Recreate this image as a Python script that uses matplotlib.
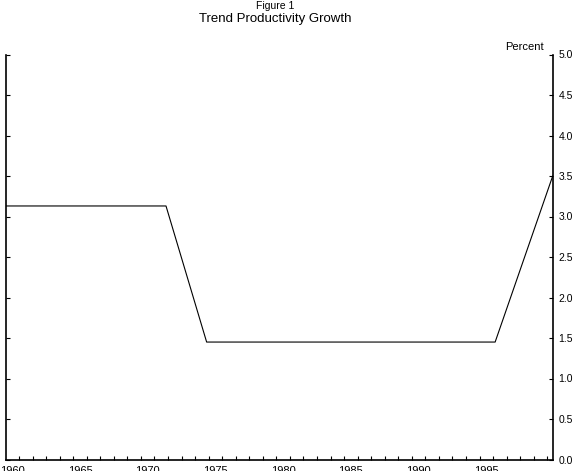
import numpy as np
import matplotlib.pyplot as plt
from matplotlib.ticker import FixedLocator

plt.rcParams['font.family'] = ['Liberation Sans', 'DejaVu Sans']

# trend productivity growth, percent
years = [1960.0, 1971.85, 1974.85, 1996.15, 2000.4]
growth = [3.13, 3.13, 1.45, 1.45, 3.5]

year_labels = [1960, 1965, 1970, 1975, 1980, 1985, 1990, 1995]
y_ticks = [0.0, 0.5, 1.0, 1.5, 2.0, 2.5, 3.0, 3.5, 4.0, 4.5, 5.0]

fig = plt.figure(figsize=(5.74, 4.71), dpi=100)
ax = fig.add_axes([5.5 / 574, 11.5 / 471, 547.2 / 574, 405 / 471])

ax.plot(years, growth, color='black', lw=0.8)

ax.set_xlim(1960, 2000.4)
ax.set_ylim(0, 5)

# year labels sit in the middle of each year, ticks on the year boundary
ax.set_xticks([y + 0.5 for y in year_labels])
ax.set_xticklabels([str(y) for y in year_labels], fontsize=8)
ax.xaxis.set_minor_locator(FixedLocator(np.arange(1961, 2001)))
ax.tick_params(axis='x', which='major', length=0, pad=5)
ax.tick_params(axis='x', which='minor', direction='in', length=3, width=0.8)

ax.set_yticks(y_ticks)
ax.set_yticklabels([f'{v:.1f}' for v in y_ticks], fontsize=7.5)
ax.tick_params(axis='y', direction='in', length=3, width=0.8,
               left=True, right=True, labelleft=False, labelright=True, pad=4)

ax.spines['top'].set_visible(False)
for s in ['left', 'right', 'bottom']:
    ax.spines[s].set_linewidth(1.2)

fig.text(544 / 574, 1 - 47 / 471, 'Percent', ha='right', va='center', fontsize=8)
fig.text(275 / 574, 1 - 6 / 471, 'Figure 1', ha='center', va='center', fontsize=7.5)
fig.text(275 / 574, 1 - 19 / 471, 'Trend Productivity Growth', ha='center', va='center', fontsize=9.5)

fig.savefig('out.png', dpi=100)
